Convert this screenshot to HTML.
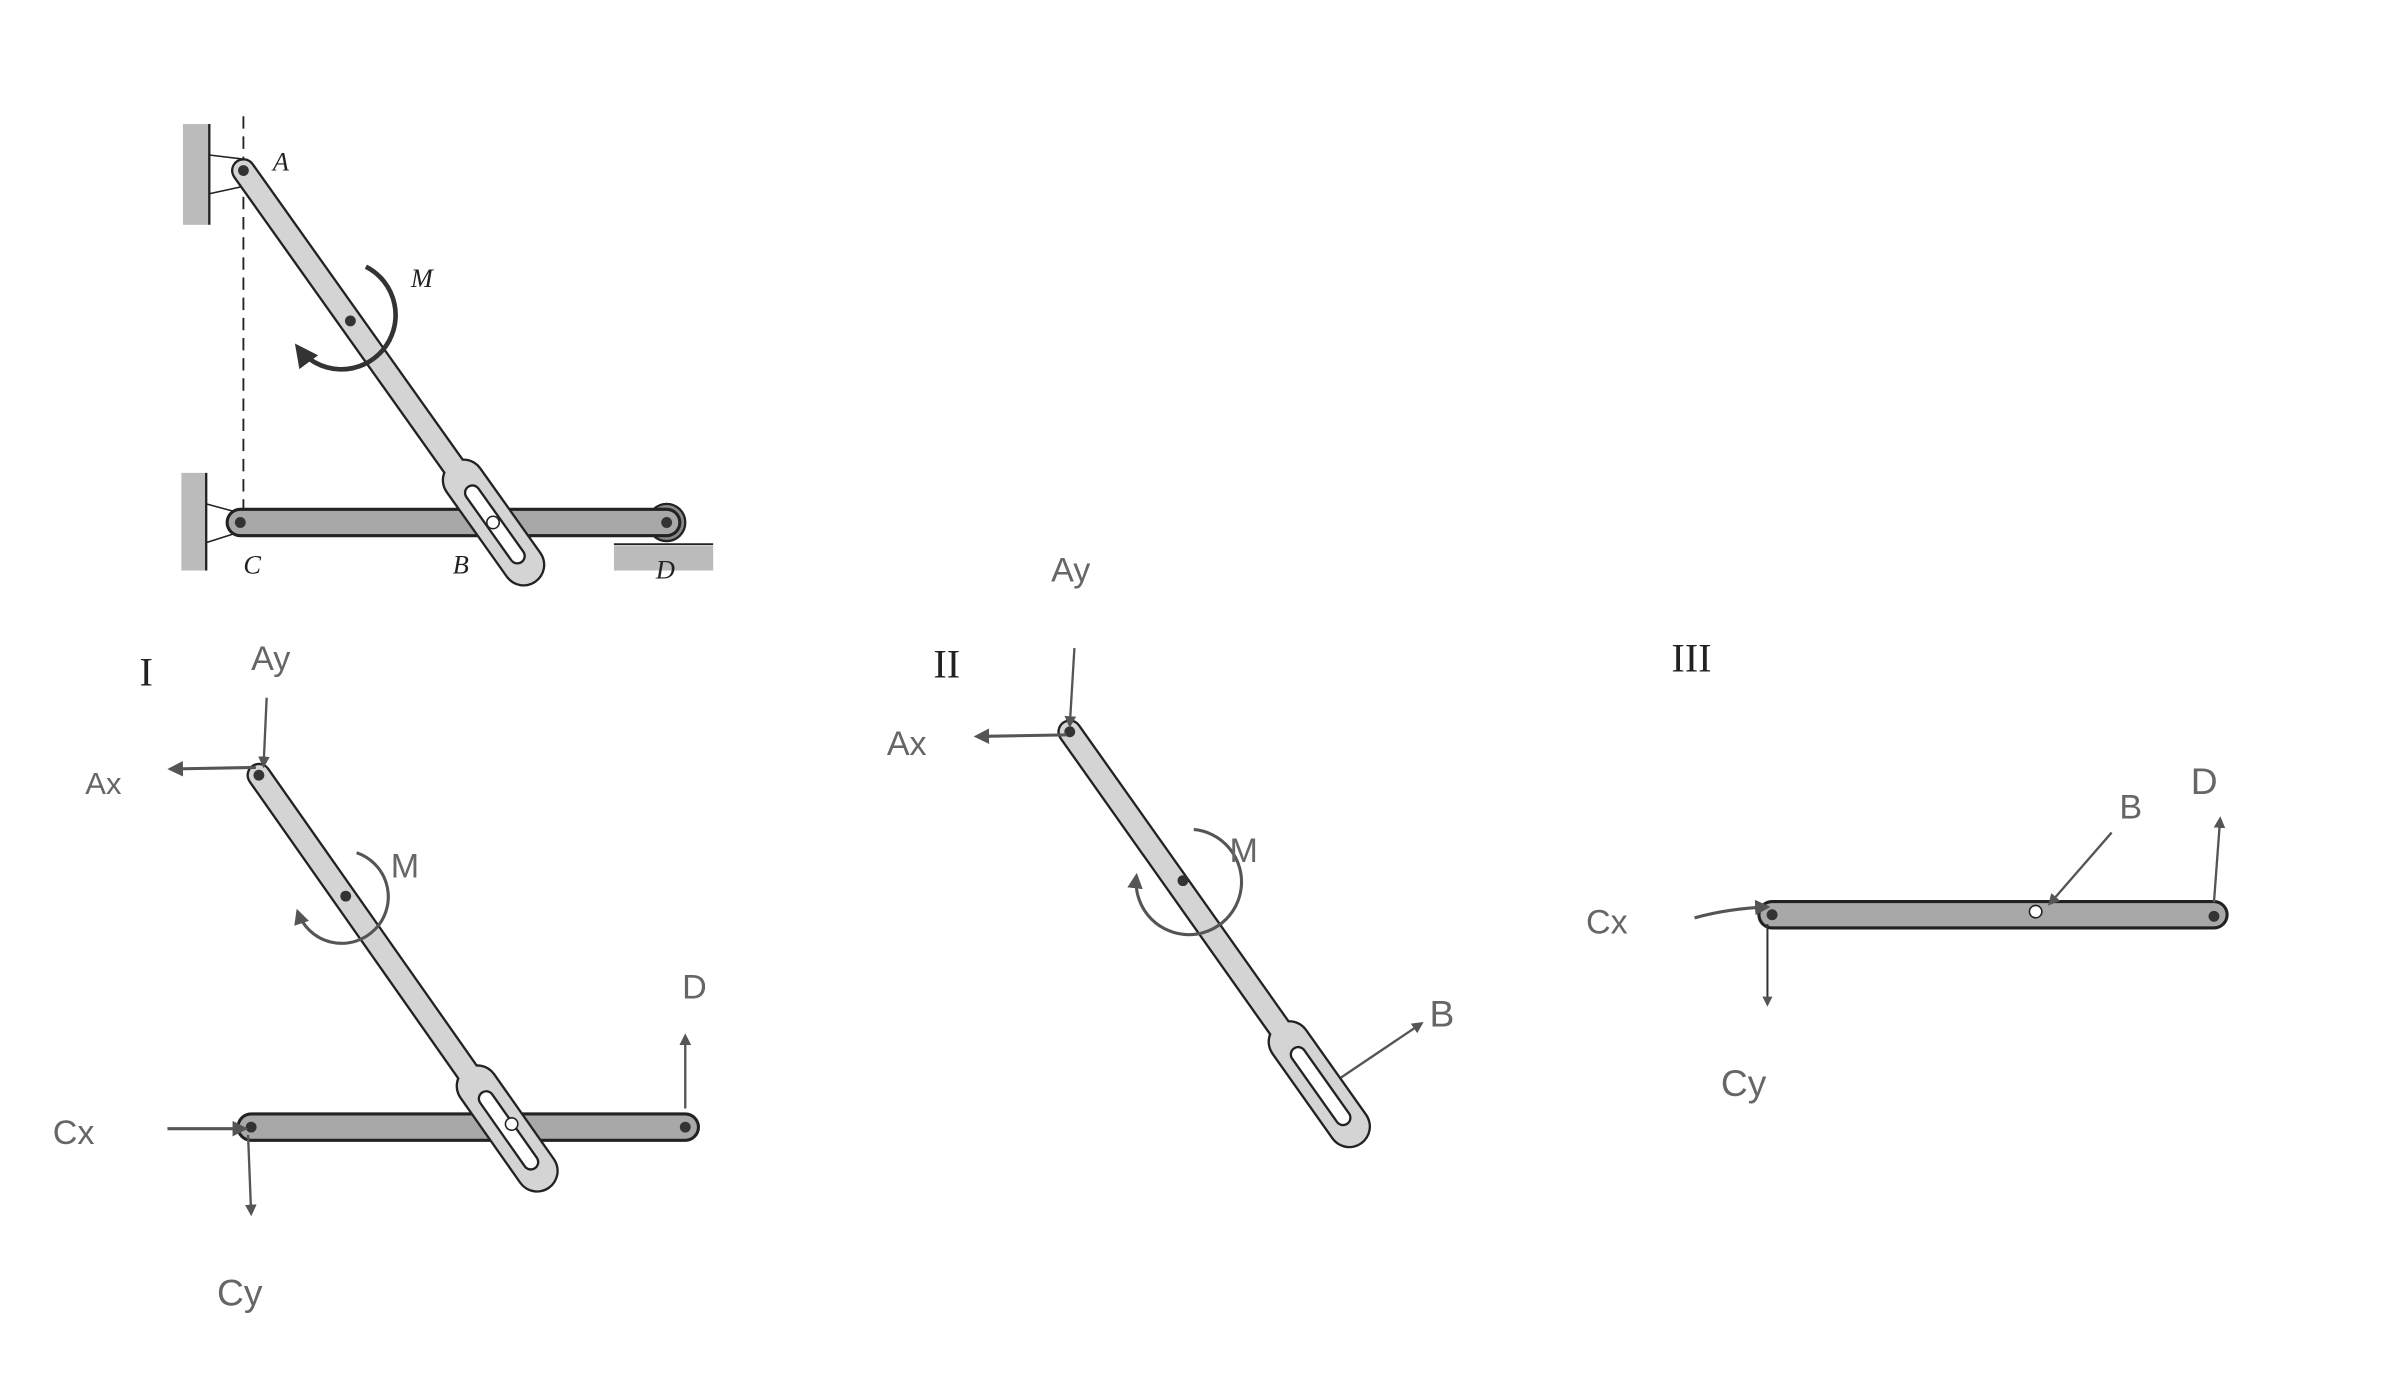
<!DOCTYPE html>
<html><head><meta charset="utf-8"><style>
html,body{margin:0;padding:0;background:#fff;}
svg{display:block;}
.hw{font-family:"Liberation Sans",sans-serif;fill:#666;}
.ser{font-family:"Liberation Serif",serif;fill:#222;}
</style></head><body>
<svg width="2400" height="1400" viewBox="0 0 1548 903" preserveAspectRatio="none" xmlns="http://www.w3.org/2000/svg">
<defs>
<marker id="ah" viewBox="0 0 10 10" refX="8" refY="5" markerWidth="5" markerHeight="5" orient="auto-start-reverse"><path d="M0,0 L10,5 L0,10 z" fill="#555"/></marker>
<marker id="ahk" viewBox="0 0 10 10" refX="8" refY="5" markerWidth="5" markerHeight="5" orient="auto-start-reverse"><path d="M0,0 L10,5 L0,10 z" fill="#333"/></marker>
<g id="link">
  <line x1="0" y1="0" x2="240" y2="0" stroke="#222" stroke-width="16" stroke-linecap="round"/>
  <line x1="245" y1="0" x2="312" y2="0" stroke="#222" stroke-width="28" stroke-linecap="round"/>
  <line x1="0" y1="0" x2="240" y2="0" stroke="#d4d4d4" stroke-width="13" stroke-linecap="round"/>
  <line x1="245" y1="0" x2="312" y2="0" stroke="#d4d4d4" stroke-width="25" stroke-linecap="round"/>
  <line x1="255" y1="0" x2="305" y2="0" stroke="#222" stroke-width="11" stroke-linecap="round"/>
  <line x1="255" y1="0" x2="305" y2="0" stroke="#fff" stroke-width="8" stroke-linecap="round"/>
  <circle cx="0" cy="0" r="3.5" fill="#333"/>
</g>
<g id="hbar">
  <line x1="0" y1="0" x2="280" y2="0" stroke="#222" stroke-width="19" stroke-linecap="round"/>
  <line x1="0" y1="0" x2="280" y2="0" stroke="#a8a8a8" stroke-width="15" stroke-linecap="round"/>
  <circle cx="0" cy="0" r="3.5" fill="#333"/>
  <circle cx="280" cy="0" r="3.5" fill="#333"/>
</g>
</defs>

<!-- ===== TOP DIAGRAM ===== -->
<rect x="118" y="80" width="17" height="65" fill="#bbb"/>
<line x1="135" y1="80" x2="135" y2="145" stroke="#222" stroke-width="1.5"/>
<line x1="135" y1="100" x2="160" y2="103" stroke="#222" stroke-width="1"/>
<line x1="135" y1="125" x2="158" y2="120" stroke="#222" stroke-width="1"/>
<rect x="117" y="305" width="16" height="63" fill="#bbb"/>
<line x1="133" y1="305" x2="133" y2="368" stroke="#222" stroke-width="1.5"/>
<line x1="133" y1="325" x2="155" y2="331" stroke="#222" stroke-width="1"/>
<line x1="133" y1="350" x2="155" y2="343" stroke="#222" stroke-width="1"/>
<line x1="157" y1="75" x2="157" y2="330" stroke="#222" stroke-width="1.2" stroke-dasharray="8,5"/>
<rect x="396" y="352" width="64" height="16" fill="#bbb"/>
<line x1="396" y1="351" x2="460" y2="351" stroke="#222" stroke-width="1.2"/>
<circle cx="430" cy="337" r="12" fill="#888" stroke="#222" stroke-width="1.5"/>
<line x1="155" y1="337" x2="430" y2="337" stroke="#222" stroke-width="19" stroke-linecap="round"/>
<line x1="155" y1="337" x2="430" y2="337" stroke="#a8a8a8" stroke-width="15" stroke-linecap="round"/>
<circle cx="155" cy="337" r="3.5" fill="#333"/>
<circle cx="430" cy="337" r="3.5" fill="#333"/>
<use href="#link" transform="translate(157,110) rotate(54.6)"/>
<circle cx="226" cy="207" r="3.5" fill="#333"/>
<circle cx="318" cy="337" r="4" fill="#fff" stroke="#222" stroke-width="1"/>
<path d="M236,172 A35,35 0 1 1 192,224" fill="none" stroke="#333" stroke-width="3" marker-end="url(#ahk)"/>
<text x="176" y="110" class="ser" font-size="17" font-style="italic">A</text>
<text x="265" y="185" class="ser" font-size="17" font-style="italic">M</text>
<text x="157" y="370" class="ser" font-size="17" font-style="italic">C</text>
<text x="292" y="370" class="ser" font-size="17" font-style="italic">B</text>
<text x="423" y="373" class="ser" font-size="17" font-style="italic">D</text>

<!-- ===== PANEL I ===== -->
<text x="90" y="442" class="ser" font-size="26">I</text>
<use href="#hbar" transform="translate(162,727)"/>
<use href="#link" transform="translate(167,500) rotate(54.9)"/>
<circle cx="223" cy="578" r="3.5" fill="#333"/>
<circle cx="330" cy="725" r="4" fill="#fff" stroke="#222" stroke-width="1"/>
<line x1="172" y1="450" x2="170" y2="494" stroke="#555" stroke-width="1.5" marker-end="url(#ah)"/>
<line x1="165" y1="495" x2="110" y2="496" stroke="#555" stroke-width="2" marker-end="url(#ah)"/>
<path d="M230,550 A30,30 0 1 1 192,588" fill="none" stroke="#555" stroke-width="2" marker-end="url(#ah)"/>
<line x1="442" y1="715" x2="442" y2="668" stroke="#555" stroke-width="1.5" marker-end="url(#ah)"/>
<line x1="108" y1="728" x2="158" y2="728" stroke="#555" stroke-width="2" marker-end="url(#ah)"/>
<line x1="160" y1="732" x2="162" y2="783" stroke="#555" stroke-width="1.5" marker-end="url(#ah)"/>
<text x="162" y="432" class="hw" font-size="22">Ay</text>
<text x="55" y="512" class="hw" font-size="20">Ax</text>
<text x="252" y="566" class="hw" font-size="22">M</text>
<text x="440" y="644" class="hw" font-size="22">D</text>
<text x="34" y="738" class="hw" font-size="22">Cx</text>
<text x="140" y="842" class="hw" font-size="24">Cy</text>

<!-- ===== PANEL II ===== -->
<text x="602" y="437" class="ser" font-size="26">II</text>
<use href="#link" transform="translate(690,472) rotate(54.7)"/>
<circle cx="763" cy="568" r="3.5" fill="#333"/>
<line x1="693" y1="418" x2="690" y2="468" stroke="#555" stroke-width="1.5" marker-end="url(#ah)"/>
<line x1="688" y1="474" x2="630" y2="475" stroke="#555" stroke-width="2" marker-end="url(#ah)"/>
<path d="M770,535 A34,34 0 1 1 733,565" fill="none" stroke="#555" stroke-width="2" marker-end="url(#ah)"/>
<line x1="865" y1="695" x2="917" y2="660" stroke="#555" stroke-width="1.5" marker-end="url(#ah)"/>
<text x="678" y="375" class="hw" font-size="22">Ay</text>
<text x="572" y="487" class="hw" font-size="22">Ax</text>
<text x="793" y="556" class="hw" font-size="22">M</text>
<text x="922" y="662" class="hw" font-size="24">B</text>

<!-- ===== PANEL III ===== -->
<text x="1078" y="433" class="ser" font-size="26">III</text>
<line x1="1143" y1="590" x2="1428" y2="590" stroke="#222" stroke-width="19" stroke-linecap="round"/>
<line x1="1143" y1="590" x2="1428" y2="590" stroke="#a8a8a8" stroke-width="15" stroke-linecap="round"/>
<circle cx="1143" cy="590" r="3.5" fill="#333"/>
<circle cx="1428" cy="591" r="3.5" fill="#333"/>
<circle cx="1313" cy="588" r="4" fill="#fff" stroke="#222" stroke-width="1"/>
<line x1="1362" y1="537" x2="1322" y2="583" stroke="#555" stroke-width="1.5" marker-end="url(#ah)"/>
<line x1="1428" y1="582" x2="1432" y2="528" stroke="#555" stroke-width="1.5" marker-end="url(#ah)"/>
<path d="M1093,592 Q1115,586 1140,585" fill="none" stroke="#555" stroke-width="2" marker-end="url(#ah)"/>
<line x1="1140" y1="596" x2="1140" y2="648" stroke="#333" stroke-width="1.3" marker-end="url(#ah)"/>
<text x="1367" y="528" class="hw" font-size="22">B</text>
<text x="1413" y="512" class="hw" font-size="24">D</text>
<text x="1023" y="602" class="hw" font-size="22">Cx</text>
<text x="1110" y="707" class="hw" font-size="24">Cy</text>
</svg>
</body></html>
